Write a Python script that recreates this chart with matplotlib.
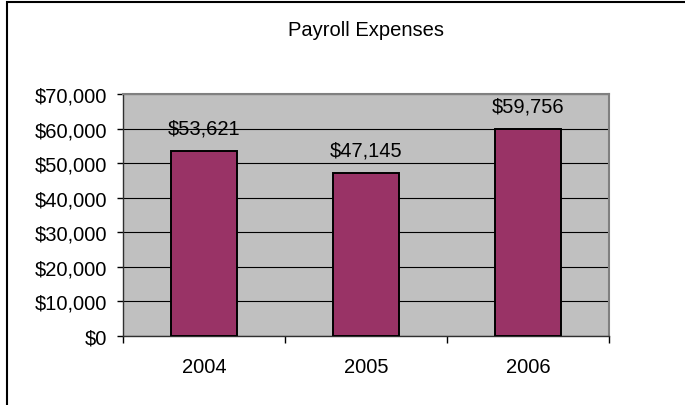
#payroll expenses bar chart, excel style

import matplotlib.pyplot as plt
from matplotlib.ticker import FuncFormatter
from matplotlib.patches import Rectangle

plt.rcParams['font.family'] = ['Liberation Sans', 'DejaVu Sans']

years = ["2004", "2005", "2006"]
expenses = [53621, 47145, 59756]
ymax = 70000
ystep = 10000

fs = 14.5

fig = plt.figure(figsize=(6.85, 4.06), dpi=100)
ax = fig.add_axes([123/685, 1 - 337/406, (609 - 123)/685, (337 - 95)/406])

#outer chart border (only top and left visible in the reference)
fig.patches.append(Rectangle((6.5/685, -0.1), 1.2, 1 - 2.5/406 + 0.1, transform=fig.transFigure,
                             fill=False, edgecolor="black", linewidth=1.5))

ax.set_facecolor("#C0C0C0")
x = list(range(len(years)))
bars = ax.bar(x, expenses, width=0.41, color="#993366", edgecolor="black", linewidth=1.4, zorder=3)

ax.set_xlim(-0.5, len(years) - 0.5)
ax.set_ylim(0, ymax)
ax.set_yticks(range(0, ymax + 1, ystep))
ax.yaxis.set_major_formatter(FuncFormatter(lambda v, p: "${:,.0f}".format(v)))
ax.set_xticks(x)
ax.set_xticklabels(years)
ax.set_xticks([i - 0.5 for i in range(len(years) + 1)], minor=True)
ax.tick_params(axis="x", which="major", length=0, pad=15, labelsize=fs)
ax.tick_params(axis="x", which="minor", length=5, width=1, direction="out")
ax.tick_params(axis="y", length=4.5, width=1, direction="out", labelsize=fs, pad=7)

ax.grid(axis="y", color="black", linewidth=0.8, zorder=1)
ax.set_axisbelow(True)

for side in ["top", "right"]:
    ax.spines[side].set_color("#808080")
    ax.spines[side].set_linewidth(1.5)
for side in ["left", "bottom"]:
    ax.spines[side].set_color("#303030")
    ax.spines[side].set_linewidth(1.0)

for xi, v in zip(x, expenses):
    ax.annotate("${:,}".format(v), (xi, v), xytext=(0, 16.5), textcoords="offset points",
                ha="center", va="center", fontsize=fs, zorder=4)

fig.text((123 + 609) / 2 / 685, 1 - 30/406, "Payroll Expenses", ha="center", va="center", fontsize=fs)

fig.savefig("out.png", dpi=100)
